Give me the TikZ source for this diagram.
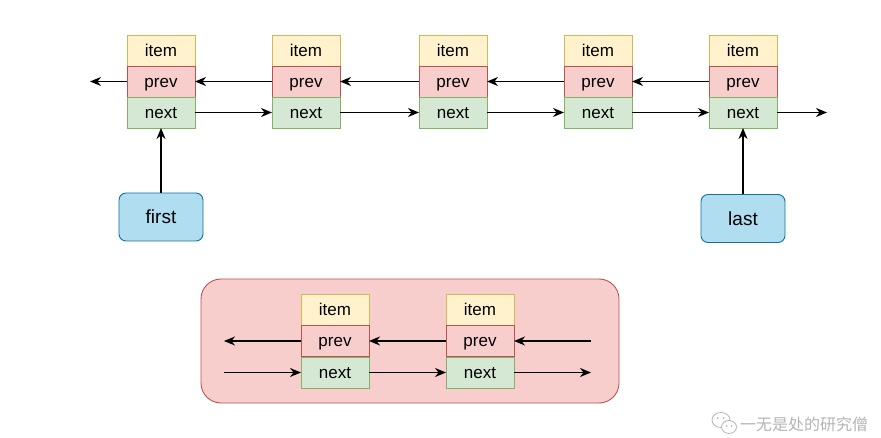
\documentclass[tikz,border=0pt]{standalone}
\usepackage{fontspec}
\setmainfont{Liberation Sans}
\newfontfamily\cjkfont{Noto Sans CJK SC}
\usetikzlibrary{arrows.meta}
\definecolor{itemfill}{HTML}{FFF2CC}
\definecolor{itemline}{HTML}{D6B656}
\definecolor{prevfill}{HTML}{F8CECC}
\definecolor{prevline}{HTML}{B85450}
\definecolor{nextfill}{HTML}{D5E8D4}
\definecolor{nextline}{HTML}{82B366}
\definecolor{ptrfill}{HTML}{B1DDF0}
\definecolor{ptrline}{HTML}{10739E}
\definecolor{markgray}{HTML}{B4B4B4}
\begin{document}
\begin{tikzpicture}[x=1pt,y=-1pt,
  cell/.style={draw, line width=0.9pt, minimum width=68pt, minimum height=31pt,
    inner sep=0pt, outer sep=0pt, text height=12pt, text depth=0pt,
    font=\fontsize{17}{20}\selectfont},
  itemcell/.style={cell, fill=itemfill, draw=itemline},
  prevcell/.style={cell, fill=prevfill, draw=prevline},
  nextcell/.style={cell, fill=nextfill, draw=nextline},
  ptr/.style={draw=ptrline, fill=ptrfill, line width=0.9pt, rounded corners=7pt,
    minimum width=84pt, minimum height=48pt, inner sep=0pt,
    text height=13.5pt, text depth=0pt,
    font=\fontsize{19}{22}\selectfont},
  link/.style={line width=1.3pt, -{Stealth[length=11pt,width=9pt,inset=3.5pt]}}]
\useasboundingbox (0,0) rectangle (881,438);

% top list: five nodes, each an item/prev/next stack
\foreach \k/\cx in {1/161, 2/306, 3/453, 4/598, 5/743}{
  \node[itemcell] (i\k) at (\cx,50.5) {item};
  \node[prevcell] (p\k) at (\cx,81.5) {prev};
  \node[nextcell] (n\k) at (\cx,112.5) {next};
}

% pointers into the list
\node[ptr] (first) at (161,217) {first};
\node[ptr] (last) at (743,218.5) {last};
\draw[link] (first.north) -- (n1.south);
\draw[link] (last.north) -- (n5.south);

% free ends of the list
\coordinate (headend) at (90,81.5);
\coordinate (tailend) at (827,112.5);
\draw[link] (p1.west) -- (headend);
\draw[link] (n5.east) -- (tailend);

% links between neighbours
\foreach \a/\b in {1/2, 2/3, 3/4, 4/5}{
  \draw[link] (n\a.east) -- (n\b.west);
  \draw[link] (p\b.west) -- (p\a.east);
}

% detail panel: two linked nodes in the middle of a list
\node[draw=prevline, fill=prevfill, line width=0.9pt, rounded corners=20pt,
  minimum width=418pt, minimum height=124pt] (panel) at (410,341) {};
\foreach \k/\cx in {a/335, b/480}{
  \node[itemcell] (i\k) at (\cx,309.5) {item};
  \node[prevcell] (p\k) at (\cx,341) {prev};
  \node[nextcell] (n\k) at (\cx,372.5) {next};
}
\coordinate (lout) at (224,341);
\coordinate (lin) at (224,372.5);
\coordinate (rin) at (591,341);
\coordinate (rout) at (591,372.5);
\draw[link] (pa.west) -- (lout);
\draw[link] (lin) -- (na.west);
\draw[link] (na.east) -- (nb.west);
\draw[link] (pb.west) -- (pa.east);
\draw[link] (rin) -- (pb.east);
\draw[link] (nb.east) -- (rout);

% signature mark
\begin{scope}[markgray, line width=0.8pt]
  \draw[fill=white] (721,420) ellipse [x radius=9pt, y radius=7.5pt];
  \draw[fill=white] (729,427) ellipse [x radius=7.5pt, y radius=6.5pt];
  \fill (717.5,418) circle (1pt) (723.5,418) circle (1pt);
  \fill (726.5,426) circle (0.9pt) (731.5,426) circle (0.9pt);
\end{scope}
\node[text=markgray, anchor=west, inner sep=0pt, font=\cjkfont\fontsize{16}{18}\selectfont]
  (mark) at (740,424) {一无是处的研究僧};
\end{tikzpicture}
\end{document}
